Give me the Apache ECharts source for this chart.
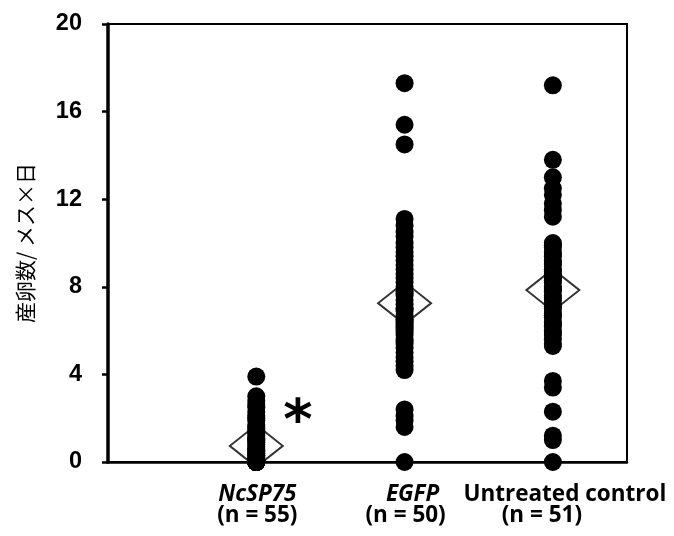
<!DOCTYPE html>
<html><head><meta charset="utf-8">
<script src="https://cdn.jsdelivr.net/npm/echarts@6/dist/echarts.min.js"></script>
<style>html,body{margin:0;padding:0;background:#fff}#c{width:674px;height:536px}</style>
</head><body><div id="c"></div>
<script>
const groupNames = ['NcSP75', 'EGFP', 'Untreated control'];
const groupN = ['(n = 55)', '(n = 50)', '(n = 51)'];
const groupPos = [1, 2, 3];
const yTicks = [0, 4, 8, 12, 16, 20];
const yTitle = '産卵数/ メス×日';

const ncsp75 = [3.9, 3.0, 2.8, 2.6, 2.5, 2.3, 2.1, 2.0, 1.9, 1.7, 1.6, 1.5, 1.4, 1.3, 1.2, 1.1, 1.0, 1.0, 0.9, 0.8,
  0.7, 0.6, 0.5, 0.5, 0.4, 0.3, 0.3, 0.2, 0.1, 0.1,
  0, 0, 0, 0, 0, 0, 0, 0, 0, 0, 0, 0, 0, 0, 0, 0, 0, 0, 0, 0, 0, 0, 0, 0, 0];
const egfp = [17.3, 15.4, 14.5, 11.1, 10.8, 10.5, 10.3, 10.0, 9.8, 9.6, 9.4, 9.2, 9.0, 8.8, 8.6, 8.4, 8.2, 8.0,
  7.8, 7.6, 7.4, 7.2, 7.0, 6.9, 6.7, 6.5, 6.3, 6.1, 6.0, 5.8, 5.6, 5.4, 5.2, 5.0, 4.8, 4.6, 4.4, 4.2,
  6.5, 7.0, 5.9, 6.4, 5.5, 6.2, 7.7, 2.4, 2.1, 1.9, 1.6, 0];
const untreated = [17.2, 13.8, 13.0, 12.5, 12.2, 11.8, 11.5, 11.2, 10.0, 9.8, 9.6, 9.4, 9.2, 9.0, 8.8, 8.6, 8.4, 8.2, 8.0,
  7.8, 7.6, 7.4, 7.2, 7.0, 6.8, 6.6, 6.4, 6.2, 6.0, 5.8, 5.6, 5.4, 5.3,
  9.9, 9.5, 9.1, 8.7, 8.3, 7.9, 7.5, 7.1, 6.7, 6.3, 5.9, 8.5,
  3.7, 3.4, 2.3, 1.2, 1.0, 0];
const groups = [ncsp75, egfp, untreated];
const means = groups.map(g => g.reduce((a, b) => a + b, 0) / g.length);

const chart = echarts.init(document.getElementById('c'));
const dotSeries = groups.map((g, i) => ({
  type: 'scatter', z: 3, symbol: 'circle', symbolSize: 18,
  itemStyle: { color: '#000', opacity: 1 },
  data: g.map(v => [groupPos[i], v])
}));
const meanSeries = {
  type: 'scatter', z: 2, symbol: 'diamond', symbolSize: [53, 42],
  itemStyle: { color: '#fff', borderColor: '#000', borderWidth: 2 },
  data: means.map((m, i) => [groupPos[i], m])
};
chart.setOption({
  animation: false,
  grid: { left: 108, right: 47, top: 24, bottom: 74, show: true, borderColor: '#000', borderWidth: 2 },
  xAxis: { type: 'value', min: 0, max: 3.5, splitLine: { show: false },
    axisLine: { lineStyle: { color: '#000', width: 2.5 } }, axisTick: { show: false }, axisLabel: { show: false } },
  yAxis: { type: 'value', min: yTicks[0], max: yTicks[yTicks.length - 1], interval: 4,
    splitLine: { show: false },
    axisLine: { show: true, lineStyle: { color: '#000', width: 3.5 } },
    axisTick: { show: true, length: 6, lineStyle: { color: '#000', width: 2.5 } },
    axisLabel: { color: '#000', fontSize: 23.5, fontWeight: 'bold', fontFamily: 'Liberation Sans', margin: 26 },
    name: yTitle, nameLocation: 'middle', nameGap: 72,
    nameTextStyle: { color: '#000', fontSize: 21, fontFamily: 'Noto Sans CJK JP' } },
  series: [meanSeries, ...dotSeries]
});

const lab = { fill: '#000', fontSize: 22.5, fontWeight: 'bold', fontFamily: 'Open Sans', textAlign: 'center', textVerticalAlign: 'middle' };
const offs1 = [1, 8, 12], offs2 = [1, 1, -11];
const italics = [true, true, false];
const graphics = [];
groupPos.forEach((gx, i) => {
  const cx = chart.convertToPixel({ xAxisIndex: 0 }, gx);
  graphics.push({ type: 'text', x: cx + offs1[i], y: 495,
    style: Object.assign({}, lab, { text: groupNames[i], fontStyle: italics[i] ? 'italic' : 'normal' }) });
  graphics.push({ type: 'text', x: cx + offs2[i], y: 516,
    style: Object.assign({}, lab, { text: groupN[i] }) });
});
const sp = chart.convertToPixel({ xAxisIndex: 0, yAxisIndex: 0 }, [1.28, 2.4]);
graphics.push({ type: 'text', x: sp[0], y: sp[1] + 14,
  style: { text: '*', fill: '#000', fontSize: 56, fontWeight: 'bold', fontFamily: 'DejaVu Sans', textAlign: 'center', textVerticalAlign: 'middle' } });
chart.setOption({ graphic: graphics });
</script></body></html>
